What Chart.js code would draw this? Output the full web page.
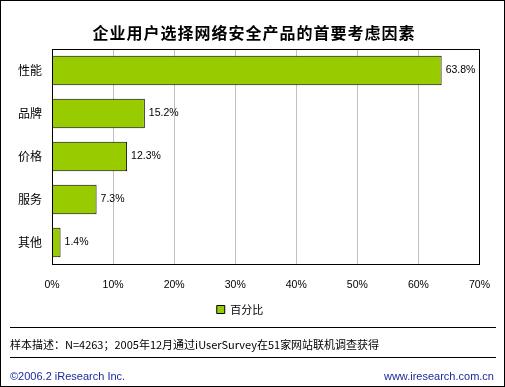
<!DOCTYPE html>
<html>
<head>
<meta charset="utf-8">
<script src="https://cdn.jsdelivr.net/npm/chart.js@4/dist/chart.umd.min.js"></script>
<style>
  html, body { margin: 0; padding: 0; background: #fff; }
  #wrap { position: relative; width: 505px; height: 387px; box-sizing: border-box; border: 1px solid #000; overflow: hidden; }
  #chart { position: absolute; left: -1px; top: -1px; }
  .title { position: absolute; left: 0; top: 20px; width: 505px; text-align: center; font: bold 16px "Noto Sans CJK SC", sans-serif; color: #000; line-height: 22px; }
  .title span { letter-spacing: 1px; margin-right: -1px; }
  .rule { position: absolute; left: 9px; width: 486px; height: 0; border-top: 1px solid #000; }
  .note { position: absolute; left: 9px; top: 335px; font: 11px "Noto Sans CJK SC", sans-serif; color: #000; line-height: 16px; }
  .foot { position: absolute; top: 367px; font: 11px "Liberation Sans", sans-serif; color: #1c2a9c; line-height: 16px; }
</style>
</head>
<body>
<div id="wrap">
  <canvas id="chart" width="505" height="387"></canvas>
  <div class="title"><span>企业用户选择网络安全产品的首要考虑因素</span></div>
  <div class="rule" style="top:326px"></div>
  <div class="note">样本描述：N=4263；2005年12月通过iUserSurvey在51家网站联机调查获得</div>
  <div class="rule" style="top:356px"></div>
  <div class="foot" style="left:9px">©2006.2 iResearch Inc.</div>
  <div class="foot" style="right:10px">www.iresearch.com.cn</div>
</div>
<script>
const categories = ["性能", "品牌", "价格", "服务", "其他"];
const shareValues = [63.8, 15.2, 12.3, 7.3, 1.4];
const seriesName = "百分比";
const tickValues = [0, 10, 20, 30, 40, 50, 60, 70];

const plotFrame = {
  id: "plotFrame",
  afterDatasetsDraw(chart) {
    const { ctx, chartArea: a } = chart;
    ctx.save();
    ctx.strokeStyle = "#000";
    ctx.lineWidth = 1;
    ctx.strokeRect(Math.round(a.left) + 0.5, Math.round(a.top) + 0.5, Math.round(a.right - a.left), Math.round(a.bottom - a.top));
    ctx.restore();
  }
};

const valueLabels = {
  id: "valueLabels",
  afterDatasetsDraw(chart) {
    const { ctx } = chart;
    const meta = chart.getDatasetMeta(0);
    ctx.save();
    ctx.font = "10.5px 'Liberation Sans', sans-serif";
    ctx.fillStyle = "#000";
    ctx.textBaseline = "middle";
    meta.data.forEach((bar, i) => {
      ctx.fillText(shareValues[i].toFixed(1) + "%", bar.x + 4, bar.y);
    });
    ctx.restore();
  }
};

new Chart(document.getElementById("chart"), {
  type: "bar",
  data: {
    labels: categories,
    datasets: [
      {
        label: seriesName,
        data: shareValues,
        backgroundColor: "#99cc00",
        borderColor: "#000",
        borderWidth: 1,
        categoryPercentage: 1,
        barPercentage: 0.69
      }
    ]
  },
  options: {
    indexAxis: "y",
    responsive: false,
    animation: false,
    layout: { padding: { left: 0, right: 25, top: 49, bottom: 62 } },
    plugins: {
      title: { display: false },
      tooltip: { enabled: false },
      legend: {
        display: true,
        position: "bottom",
        labels: {
          boxWidth: 8,
          boxHeight: 8,
          padding: 10,
          color: "#000",
          font: { family: "'Noto Sans CJK SC', sans-serif", size: 11 }
        }
      }
    },
    scales: {
      x: {
        min: 0,
        max: 70,
        afterBuildTicks: (scale) => { scale.ticks = tickValues.map((v) => ({ value: v })); },
        afterFit: (scale) => { scale.height = 30; },
        grid: { color: "#c0c0c0", drawTicks: false },
        border: { display: false },
        ticks: {
          padding: 15,
          color: "#000",
          font: { family: "'Liberation Sans', sans-serif", size: 10.5 },
          callback: (v) => v + "%"
        }
      },
      y: {
        afterFit: (scale) => { scale.width = 52; },
        grid: { display: false, drawTicks: false },
        border: { display: false },
        ticks: {
          padding: 10,
          color: "#000",
          font: { family: "'Noto Sans CJK SC', sans-serif", size: 12 }
        }
      }
    }
  },
  plugins: [plotFrame, valueLabels]
});
</script>
</body>
</html>
